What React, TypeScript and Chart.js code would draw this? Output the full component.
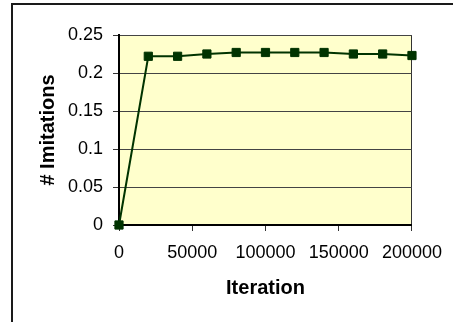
import React, { useEffect, useRef } from "react";
import { Chart, registerables } from "chart.js";

Chart.register(...registerables);

const iterations = [0, 20000, 40000, 60000, 80000, 100000, 120000, 140000, 160000, 180000, 200000];
const imitations = [0, 0.222, 0.222, 0.225, 0.227, 0.227, 0.227, 0.227, 0.225, 0.225, 0.223];
const yTicks = [0, 0.05, 0.1, 0.15, 0.2, 0.25];
const xTicks = [0, 50000, 100000, 150000, 200000];

const W = 453;
const H = 322;

const bgPlugin = {
  id: "bgPlugin",
  beforeDraw(chart: any) {
    const { ctx, chartArea } = chart;
    ctx.save();
    ctx.fillStyle = "#ffffff";
    ctx.fillRect(0, 0, chart.width, chart.height);
    ctx.strokeStyle = "#1a1a1a";
    ctx.lineWidth = 2;
    ctx.beginPath();
    ctx.moveTo(12, H + 2);
    ctx.lineTo(12, 4);
    ctx.lineTo(W + 2, 4);
    ctx.stroke();
    ctx.fillStyle = "#ffffcc";
    ctx.fillRect(chartArea.left, chartArea.top, chartArea.right - chartArea.left, chartArea.bottom - chartArea.top);
    ctx.restore();
  },
};

export default function App() {
  const ref = useRef<HTMLCanvasElement | null>(null);
  useEffect(() => {
    if (!ref.current) return;
    const chart = new Chart(ref.current, {
      type: "line",
      data: {
        datasets: [
          {
            label: "# Imitations",
            data: iterations.map((x, i) => ({ x, y: imitations[i] })),
            borderColor: "#003300",
            backgroundColor: "#003300",
            borderWidth: 2,
            pointStyle: "rect",
            pointRadius: 5.8,
            pointBorderWidth: 1,
            pointBorderColor: "#003300",
            pointBackgroundColor: "#003300",
            tension: 0,
            clip: false as any,
          },
        ],
      },
      plugins: [bgPlugin],
      options: {
        animation: false,
        responsive: false,
        devicePixelRatio: 1,
        layout: { padding: { left: 0, top: 35, right: W - 414, bottom: 0 } },
        plugins: { legend: { display: false }, tooltip: { enabled: false } },
        scales: {
          x: {
            type: "linear",
            min: 0,
            max: 200000,
            afterFit(scale: any) {
              scale.height = H - 225;
            },
            afterBuildTicks(scale: any) {
              scale.ticks = xTicks.map((v) => ({ value: v }));
            },
            ticks: {
              color: "#000",
              font: { family: "Liberation Sans, Arial, sans-serif", size: 18 },
              padding: 11,
              maxRotation: 0,
              autoSkip: false,
              callback: (v: any) => String(v),
            },
            grid: {
              color: (c: any) => (c.tick && c.tick.value === 200000 ? "#333333" : "rgba(0,0,0,0)"),
              tickColor: "#333333",
              tickLength: 6,
              lineWidth: 1,
              drawOnChartArea: true,
            },
            border: { display: true, color: "#000", width: 2 },
            title: {
              display: true,
              text: "Iteration",
              color: "#000",
              font: { family: "Liberation Sans, Arial, sans-serif", size: 20, weight: "bold" },
              padding: { top: 0, bottom: 22 },
            },
          },
          y: {
            type: "linear",
            min: 0,
            max: 0.25,
            afterFit(scale: any) {
              scale.width = 119;
            },
            afterBuildTicks(scale: any) {
              scale.ticks = yTicks.map((v) => ({ value: v }));
            },
            ticks: {
              color: "#000",
              font: { family: "Liberation Sans, Arial, sans-serif", size: 18 },
              padding: 10,
              callback: (v: any) => String(Number(v)),
            },
            grid: {
              color: "#444444",
              tickColor: "#333333",
              tickLength: 6,
              lineWidth: 1,
            },
            border: { display: true, color: "#000", width: 2 },
            title: {
              display: true,
              text: "# Imitations",
              color: "#000",
              font: { family: "Liberation Sans, Arial, sans-serif", size: 20, weight: "bold" },
              padding: { top: 36, bottom: 0 },
            },
          },
        },
      },
    });
    return () => chart.destroy();
  }, []);
  return (
    <div style={{ position: "fixed", left: 0, top: 0, width: W, height: H, background: "#fff" }}>
      <canvas ref={ref} width={W} height={H} style={{ display: "block", width: W, height: H }} />
    </div>
  );
}
